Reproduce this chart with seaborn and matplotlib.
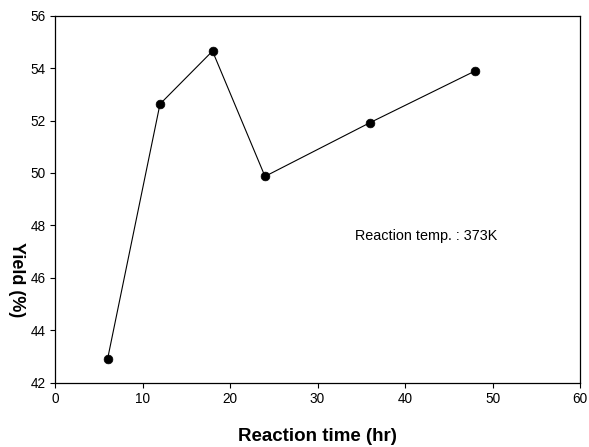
import matplotlib
matplotlib.use("Agg")
import matplotlib.pyplot as plt
import seaborn as sns
import pandas as pd

# data
reaction_time = [6, 12, 18, 24, 36, 48]
yield_pct = [42.89, 52.63, 54.65, 49.87, 51.92, 53.89]

sns.set_theme(style="ticks")
plt.rcParams['font.family'] = ['Liberation Sans', 'DejaVu Sans']
plt.rcParams['text.color'] = 'black'
plt.rcParams['axes.labelcolor'] = 'black'

df = pd.DataFrame({'time': reaction_time, 'yield': yield_pct})

W, H = 589, 447
fig = plt.figure(figsize=(W / 100, H / 100), dpi=100)
# axes box in pixels: left 55, right 580, top 15.7, bottom 382.7
ax = fig.add_axes([55 / W, 1 - 382.7 / H, 525 / W, 367 / H])

sns.lineplot(data=df, x='time', y='yield', ax=ax, color='black', linewidth=0.8,
             marker='o', markersize=6.3, markerfacecolor='black',
             markeredgecolor='black', markeredgewidth=0.5)

ax.set_xlim(0, 60)
ax.set_ylim(42, 56)
ax.set_xticks(range(0, 61, 10))
ax.set_yticks(range(42, 57, 2))
ax.tick_params(direction='out', length=3.6, width=0.8, labelsize=9.8,
               colors='black', pad=3)
for s in ax.spines.values():
    s.set_visible(True)
    s.set_linewidth(0.9)
    s.set_color('black')

ax.set_xlabel('Reaction time (hr)', fontsize=13.5, fontweight='bold')
ax.xaxis.set_label_coords(0.5, -(436.7 - 382.7) / 367, transform=ax.transAxes)
ax.xaxis.label.set_va('center')
ax.set_ylabel('Yield (%)', fontsize=13, fontweight='bold', rotation=-90)
ax.yaxis.set_label_coords(-(55 - 16.5) / 525, (382.7 - 280) / 367, transform=ax.transAxes)
ax.yaxis.label.set_va('center')
ax.yaxis.label.set_ha('center')

ax.text(34.3, 47.6, 'Reaction temp. : 373K', fontsize=10.4, ha='left', va='center')

fig.savefig('out.png', dpi=100)
